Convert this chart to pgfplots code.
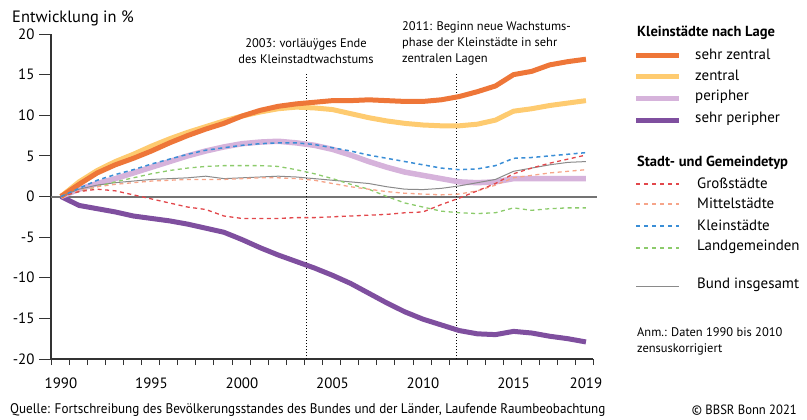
\documentclass[border=0pt]{standalone}
\usepackage{pgfplots}
\pgfplotsset{compat=1.18}
\usepackage{pgfplotstable}
\usepackage{fontspec}
\setmainfont{PT Sans}
\newfontfamily\condensed[FakeStretch=0.94]{PT Sans}

\definecolor{szentral}{HTML}{EE7638}
\definecolor{zentral}{HTML}{FECB70}
\definecolor{peripher}{HTML}{D6B3DB}
\definecolor{speripher}{HTML}{7F4F9F}
\definecolor{gross}{HTML}{E2474B}
\definecolor{mittel}{HTML}{F6A58A}
\definecolor{klein}{HTML}{3A8ED6}
\definecolor{land}{HTML}{8CCB6B}
\definecolor{bund}{HTML}{8A8A8A}

% Entwicklung in % gegenueber 1990
\pgfplotstableread{
year sz   z    p   sp    gs   ms   ks   lg   bund
1990 0    0    0   0     0    0    0    0    0
1991 1.5  1.8  0.9 -1.1  0.6  0.7  1.0  0.6  0.9
1992 2.9  3.2  1.6 -1.5  0.9  1.2  2.0  1.2  1.4
1993 3.9  4.3  2.2 -1.9  0.7  1.5  2.7  1.8  1.7
1994 4.7  5.2  2.9 -2.4  0.2  1.7  3.3  2.3  1.9
1995 5.6  6.2  3.6 -2.7  -0.3 1.9  4.0  2.8  2.1
1996 6.6  7.1  4.3 -3.0  -0.8 2.0  4.6  3.2  2.2
1997 7.5  7.9  5.0 -3.4  -1.3 2.1  5.2  3.5  2.3
1998 8.3  8.6  5.6 -3.9  -1.6 2.1  5.7  3.7  2.5
1999 9.0  9.3  6.1 -4.4  -2.4 2.1  6.0  3.8  2.2
2000 9.9  9.9  6.5 -5.3  -2.7 2.2  6.3  3.8  2.3
2001 10.6 10.4 6.7 -6.3  -2.7 2.3  6.5  3.8  2.4
2002 11.1 10.8 6.8 -7.2  -2.7 2.3  6.6  3.7  2.5
2003 11.4 11.0 6.6 -8.0  -2.6 2.2  6.6  3.3  2.4
2004 11.6 10.9 6.3 -8.8  -2.6 2.0  6.4  2.8  2.2
2005 11.8 10.7 5.8 -9.7  -2.5 1.6  6.0  2.2  2.0
2006 11.8 10.2 5.1 -10.7 -2.4 1.2  5.6  1.5  1.8
2007 11.9 9.7  4.3 -11.9 -2.3 0.9  5.1  0.9  1.6
2008 11.8 9.3  3.6 -13.1 -2.2 0.6  4.7  0.0  1.2
2009 11.7 9.0  3.0 -14.2 -2.0 0.4  4.3  -0.8 0.9
2010 11.7 8.8  2.6 -15.1 -1.9 0.3  3.9  -1.3 0.85
2011 11.9 8.7  2.2 -15.8 -1.0 0.2  3.5  -1.8 1.0
2012 12.3 8.7  1.8 -16.5 -0.2 0.3  3.3  -2.0 1.3
2013 12.9 8.9  1.7 -16.9 0.7  0.7  3.4  -2.1 1.7
2014 13.6 9.4  1.8 -17.0 1.6  1.4  3.8  -2.0 2.1
2015 15.0 10.5 2.2 -16.6 2.8  2.3  4.7  -1.4 3.1
2016 15.4 10.8 2.2 -16.8 3.5  2.6  4.8  -1.7 3.5
2017 16.2 11.2 2.2 -17.2 4.1  2.9  5.0  -1.5 3.9
2018 16.6 11.5 2.2 -17.5 4.6  3.1  5.2  -1.4 4.2
2019 16.9 11.8 2.2 -17.9 5.1  3.3  5.4  -1.4 4.3
}\data

\begin{document}
\begin{tikzpicture}[x=1bp,y=1bp,font=\fontsize{15}{16}\selectfont]
  \useasboundingbox (0,0) rectangle (807,419);
  \begin{axis}[
      at={(51bp,60bp)}, anchor=south west,
      scale only axis, width=542bp, height=325bp,
      xmin=1989.45, xmax=2019.39, ymin=-20, ymax=20,
      axis x line*=bottom, axis y line*=left,
      axis line style={line width=1.2bp, black!80, -},
      xtick={1990,1995,2000,2005,2010,2015,2019},
      major x tick style={draw=none},
      minor xtick={1989.45,1990.45,...,2018.5,2019.39},
      minor x tick style={line width=1bp, black!80},
      minor tick length=6bp,
      ytick={-20,-15,...,20},
      ytick style={line width=1bp, black!80},
      major tick length=12bp,
      tick align=outside,
      xticklabel style={yshift=-3bp},
      yticklabel style={xshift=-1bp},
      x tick label style={/pgf/number format/.cd, 1000 sep={}, set thousands separator={}},
      /pgf/number format/assume math mode=true,
      tick label style={font=\fontsize{15}{16}\selectfont},
      clip=false,
      line join=round,
  ]
    \addplot[draw=black!55, line width=2bp] coordinates {(1989.45,0) (2019.6,0)};
    \draw[dotted, line width=1bp] (axis cs:2003.54,-20) -- (axis cs:2003.54,15.2);
    \draw[dotted, line width=1bp] (axis cs:2011.86,-20) -- (axis cs:2011.86,15.2);

    \addplot[speripher, line width=5bp] table[x=year, y=sp] {\data};
    \addplot[peripher, line width=5.5bp] table[x=year, y=p] {\data};
    \addplot[zentral, line width=5bp] table[x=year, y=z] {\data};
    \addplot[szentral, line width=5bp] table[x=year, y=sz] {\data};
    \addplot[bund, line width=1bp] table[x=year, y=bund] {\data};
    \addplot[land, line width=1.3bp, dash pattern=on 4bp off 3.5bp] table[x=year, y=lg] {\data};
    \addplot[mittel, line width=1.3bp, dash pattern=on 4bp off 3.5bp] table[x=year, y=ms] {\data};
    \addplot[gross, line width=1.3bp, dash pattern=on 4bp off 3.5bp] table[x=year, y=gs] {\data};
    \addplot[klein, line width=1.5bp, dash pattern=on 4bp off 3.5bp] table[x=year, y=ks] {\data};
  \end{axis}

  % Titel und Anmerkungen
  \node[anchor=west, inner sep=0, font=\fontsize{16.5}{18}\selectfont] at (12,401) {Entwicklung in \%};
  \node[align=center, inner sep=0, font=\fontsize{12.5}{16}\selectfont] at (306,368)
    {2003: vorläuÿges Ende\\des Kleinstadtwachstums};
  \node[align=left, anchor=west, inner sep=0, font=\fontsize{12.5}{16}\selectfont] at (402,376)
    {2011: Beginn neue Wachstums-\\phase der Kleinstädte in sehr\\zentralen Lagen};

  % Legende
  \node[anchor=west, inner sep=0, font=\bfseries\fontsize{14.6}{16}\selectfont] at (637,386) {Kleinstädte nach Lage};
  \foreach \c/\t/\y in {szentral/sehr zentral/365, zentral/zentral/344, peripher/peripher/322, speripher/sehr peripher/300} {
    \draw[\c, line width=5bp] (636,\y-1) -- (679,\y-1);
    \node[anchor=west, inner sep=0] at (695,\y) {\t};
  }
  \node[anchor=west, inner sep=0, font=\bfseries\fontsize{14.6}{16}\selectfont] at (637,256) {Stadt- und Gemeindetyp};
  \foreach \c/\t/\y in {gross/Großstädte/236, mittel/Mittelstädte/216, klein/Kleinstädte/194, land/Landgemeinden/172} {
    \draw[\c, line width=1.5bp, dash pattern=on 4bp off 4bp] (636,\y-1) -- (679,\y-1);
    \node[anchor=west, inner sep=0] at (697,\y) {\t};
  }
  \draw[bund, line width=1bp] (636,133) -- (679,133);
  \node[anchor=west, inner sep=0] at (697,134) {Bund insgesamt};
  \node[anchor=west, align=left, inner sep=0, font=\fontsize{12.5}{16}\selectfont] at (637,78)
    {Anm.: Daten 1990 bis 2010\\zensuskorrigiert};

  % Quelle
  \node[anchor=west, inner sep=0, font=\condensed\fontsize{14}{14}\selectfont] at (10,9)
    {Quelle: Fortschreibung des Bevölkerungsstandes des Bundes und der Länder, Laufende Raumbeobachtung};
  \node[anchor=east, inner sep=0, font=\condensed\fontsize{13.5}{14}\selectfont] at (797,9) {© BBSR Bonn 2021};
\end{tikzpicture}
\end{document}
